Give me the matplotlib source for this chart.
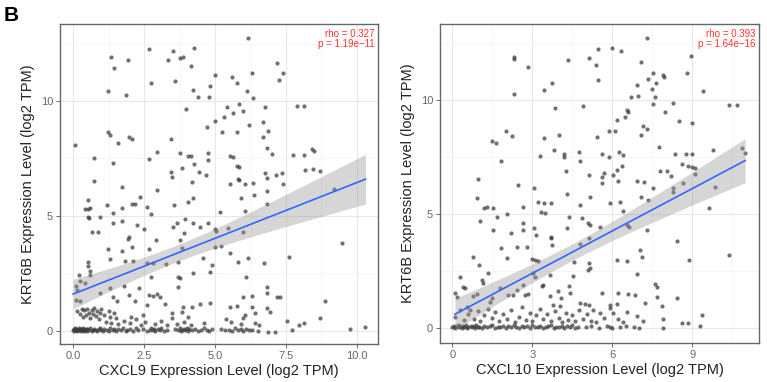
import numpy as np
import matplotlib
matplotlib.use("Agg")
import matplotlib.pyplot as plt
from matplotlib.ticker import MultipleLocator

plt.rcParams['font.family'] = ['Liberation Sans', 'DejaVu Sans']

# ---------------- data: left panel (CXCL9 vs KRT6B) ----------------
cxcl9_x = [6.16, 2.67, 3.53, 4.26, 1.32, 1.94, 3.34, 3.76, 3.88, 1.44, 4.15, 7.2, 6.29, 5.0, 5.59,
           7.41, 7.27, 3.59, 2.73, 5.79, 4.82, 6.12, 1.24, 4.21, 1.86, 4.8, 4.41, 6.35, 3.98, 5.41,
           5.86, 5.98, 5.65, 6.75, 7.88, 8.14, 5.32, 5.0, 6.7, 6.21, 4.71, 5.25, 5.76, 6.88, 1.24,
           1.29, 3.44, 6.68, 1.59, 1.98, 2.09, 0.06, 6.82, 7.0, 2.94, 3.76, 4.06, 4.14, 4.76, 5.53,
           5.64, 7.73, 8.14, 8.41, 8.47, 0.74, 2.67, 4.76, 4.27, 1.39, 3.82, 5.79, 5.86, 8.16, 8.44,
           8.71, 3.46, 3.48, 4.45, 4.68, 6.76, 7.15, 7.35, 5.81, 5.86, 6.82, 0.73, 4.18, 5.53, 6.35,
           7.39, 6.06, 6.82, 1.74, 2.94, 9.18, 6.38, 2.35, 5.91, 0.53, 4.06, 4.21, 6.82, 1.2, 2.08,
           2.18, 3.55, 1.74, 0.41, 0.53, 0.61, 2.62, 6.06, 5.18, 1.39, 2.76, 0.53, 0.56, 0.94, 1.71,
           3.94, 4.21, 3.65, 2.26, 1.41, 3.53, 2.49, 4.47, 4.76, 5.0, 5.04, 5.44, 0.65, 0.88, 6.0,
           3.92, 1.98, 1.94, 3.78, 2.92, 2.09, 1.24, 1.71, 2.69, 5.0, 5.2, 3.82, 5.53, 9.47, 7.62,
           1.29, 1.82, 2.12, 6.15, 4.56, 0.53, 0.53, 0.59, 2.59, 2.82, 3.27, 3.71, 5.82, 6.73, 4.88,
           4.21, 4.82, 0.21, 0.24, 0.59, 2.76, 3.71, 3.76, 6.09, 0.41, 1.79, 2.33, 1.29, 3.71, 6.82,
           6.82, 0.09, 0.14, 0.94, 1.98, 2.67, 2.8, 2.94, 3.06, 1.41, 1.53, 5.98, 6.29, 7.2, 7.29,
           8.88, 0.09, 0.24, 2.18, 2.59, 3.24, 4.47, 4.82, 4.18, 3.86, 5.53, 5.76, 6.29, 6.82, 6.94,
           2.47, 3.47, 3.82, 6.06, 6.41, 8.71, 7.53, 7.94, 8.12, 9.76, 10.29, 7.71, 6.88, 7.12]
cxcl9_y = [12.72, 12.25, 12.19, 12.29, 11.9, 11.78, 11.78, 11.86, 11.93, 11.45, 11.54, 11.67, 11.23,
           11.13, 11.03, 11.2, 10.91, 10.88, 10.8, 10.77, 10.65, 10.45, 10.45, 10.48, 10.26, 10.19,
           10.16, 10.14, 9.65, 9.72, 9.87, 9.58, 9.49, 9.75, 9.78, 9.78, 9.29, 9.14, 9.1, 8.96, 8.88,
           8.67, 8.67, 8.71, 8.67, 8.52, 8.33, 8.45, 8.19, 8.45, 8.33, 8.09, 7.94, 7.7, 7.8, 7.72,
           7.61, 7.61, 7.75, 7.61, 7.58, 7.65, 7.65, 7.9, 7.84, 7.51, 7.46, 7.43, 7.26, 7.29, 7.1,
           7.19, 7.12, 7.0, 7.03, 6.97, 6.9, 6.68, 6.93, 6.78, 6.88, 6.78, 6.88, 6.62, 6.57, 6.64,
           6.54, 6.49, 6.39, 6.45, 6.39, 6.39, 6.1, 6.25, 6.13, 6.17, 5.91, 5.84, 5.77, 5.7, 5.62,
           5.8, 5.52, 5.49, 5.52, 5.52, 5.48, 5.33, 5.29, 5.29, 5.33, 5.38, 5.23, 5.16, 5.12, 5.09,
           4.97, 4.9, 4.97, 4.8, 4.86, 4.71, 4.71, 4.61, 4.68, 4.51, 4.43, 4.54, 4.68, 4.42, 4.36,
           4.46, 4.29, 4.29, 4.29, 4.25, 4.07, 3.99, 3.96, 3.96, 3.67, 3.55, 3.49, 3.55, 3.64, 3.7,
           3.59, 3.41, 3.81, 3.2, 3.12, 3.06, 3.06, 3.16, 3.16, 3.01, 2.83, 2.62, 2.97, 2.94, 2.91,
           2.99, 2.99, 2.97, 2.87, 2.51, 2.58, 2.43, 2.17, 2.43, 2.36, 2.33, 2.29, 2.36, 2.1, 1.97,
           1.86, 1.86, 1.93, 1.93, 1.64, 1.96, 1.78, 1.67, 1.57, 1.57, 1.52, 1.61, 1.49, 1.49, 1.28,
           1.49, 1.52, 1.46, 1.46, 1.28, 1.35, 1.28, 1.28, 1.13, 1.16, 1.17, 1.2, 1.06, 1.06, 1.06,
           1.09, 1.06, 0.99, 0.84, 0.7, 0.77, 0.84, 0.7, 0.77, 0.55, 0.41, 0.26, 0.33, 0.07, 0.16,
           0.04, -0.03, -0.03]
cxcl9_low_x = [0.15, 0.25, 0.3, 0.35, 0.4, 0.45, 0.5, 0.55, 0.6, 0.65, 0.7, 0.75, 0.8, 0.85, 0.9,
               0.95, 1.0, 1.1, 1.15, 1.25, 1.3, 1.35, 1.45, 1.5, 1.6, 1.8, 2.0, 2.05, 2.2, 2.4,
               2.55, 2.9, 3.1, 3.3, 3.5, 3.65, 3.9, 4.05, 4.15, 4.6, 5.4, 5.55, 5.9, 6.0, 6.4, 6.55]
cxcl9_low_y = [0.85, 0.75, 0.95, 0.6, 0.9, 0.7, 0.95, 0.8, 0.55, 0.9, 0.75, 1.0, 0.65, 0.85, 0.5,
               0.8, 0.95, 0.7, 0.4, 0.85, 0.6, 0.35, 0.8, 0.55, 0.3, 0.45, 0.35, 0.6, 0.5, 0.25,
               0.4, 0.3, 0.45, 0.25, 0.55, 0.3, 0.4, 0.6, 0.25, 0.35, 0.5, 0.4, 0.3, 0.55, 0.35, 0.25]
cxcl9_zero_x = [0.0, 0.03, 0.05, 0.08, 0.1, 0.12, 0.15, 0.18, 0.2, 0.22, 0.25, 0.28, 0.3, 0.33,
                0.35, 0.38, 0.4, 0.43, 0.45, 0.48, 0.5, 0.55, 0.6, 0.65, 0.7, 0.75, 0.8, 0.85,
                0.9, 0.95, 1.0, 1.05, 1.1, 1.2, 1.25, 1.3, 1.4, 1.45, 1.5, 1.6, 1.7, 1.75, 1.85,
                1.9, 2.0, 2.1, 2.2, 2.3, 2.45, 2.6, 2.7, 2.75, 2.8, 2.85, 2.9, 3.0, 3.05, 3.1,
                3.2, 3.3, 3.6, 3.7, 3.75, 3.8, 3.85, 3.9, 3.95, 4.0, 4.05, 4.1, 4.2, 4.3, 4.4,
                4.5, 4.6, 4.7, 4.8, 4.9, 5.2, 5.35, 5.5, 5.6, 5.7, 5.8, 5.9, 6.0, 6.1, 6.2, 6.3, 6.5]
cxcl9_zero_y = [0.02, 0.08, 0.0, 0.12, 0.04, 0.1, 0.0, 0.06, 0.14, 0.02, 0.08, 0.0, 0.1, 0.04,
                0.12, 0.0, 0.06, 0.02, 0.1, 0.0, 0.08, 0.04, 0.12, 0.0, 0.06, 0.1, 0.02, 0.0,
                0.08, 0.12, 0.04, 0.0, 0.1, 0.06, 0.0, 0.14, 0.02, 0.08, 0.0, 0.1, 0.04, 0.12,
                0.0, 0.06, 0.08, 0.0, 0.12, 0.04, 0.1, 0.0, 0.06, 0.14, 0.02, 0.08, 0.0, 0.1,
                0.04, 0.12, 0.0, 0.06, 0.08, 0.02, 0.12, 0.0, 0.06, 0.1, 0.04, 0.14, 0.0, 0.08,
                0.02, 0.1, 0.0, 0.06, 0.12, 0.04, 0.0, 0.08, 0.1, 0.02, 0.06, 0.0, 0.12, 0.04,
                0.08, 0.0, 0.1, 0.06, 0.02, 0.0]
# fitted regression line (x endpoints, fitted KRT6B)
cxcl9_fit_x = [0.0, 10.3]
cxcl9_fit_y = [1.6, 6.6]

# ---------------- data: right panel (CXCL10 vs KRT6B) ----------------
cxcl10_x = [7.29, 5.98, 5.48, 6.31, 5.14, 4.33, 2.31, 2.31, 7.06, 8.94, 5.39, 2.85, 8.79, 7.51,
            7.91, 7.94, 7.35, 5.48, 3.75, 7.64, 6.94, 7.48, 3.44, 9.41, 2.31, 6.69, 6.98, 7.6,
            8.29, 7.51, 10.39, 10.66, 3.85, 4.91, 6.54, 6.6, 7.97, 6.48, 6.19, 8.51, 8.98, 7.16,
            7.31, 5.89, 6.1, 2.01, 7.06, 4.01, 2.25, 5.44, 3.45, 1.48, 1.64, 7.76, 3.83, 9.76,
            10.85, 10.98, 4.76, 6.26, 4.19, 4.19, 5.6, 5.89, 6.39, 3.29, 8.35, 8.76, 8.98, 1.81,
            4.79, 6.35, 8.85, 8.98, 9.1, 8.6, 4.26, 6.16, 7.8, 8.05, 5.69, 5.6, 5.14, 6.04, 8.2,
            9.1, 0.98, 6.23, 6.91, 7.19, 5.6, 8.66, 2.48, 9.84, 3.06, 7.51, 8.29, 8.29, 4.29,
            5.18, 7.06, 0.91, 7.35, 3.2, 3.45, 3.69, 5.91, 6.29, 4.79, 2.64, 1.29, 1.19, 1.54,
            9.64, 6.41, 3.31, 3.48, 2.04, 1.66, 4.39, 4.86, 1.04, 5.1, 5.16, 2.66, 5.54, 6.54,
            6.64, 4.29, 3.06, 2.66, 1.54, 3.14, 2.19, 3.7, 3.7, 5.14, 7.31, 8.44, 2.44, 2.79,
            1.81, 4.79, 7.04, 3.73, 0.76, 2.06, 2.98, 3.1, 3.23, 4.56, 6.16, 6.56, 7.1, 8.89,
            10.39, 1.01, 5.14, 5.16, 5.1, 1.35, 3.04, 3.1, 4.51, 6.94, 0.29, 3.66, 1.1, 1.16,
            2.66, 3.35, 3.41, 4.38, 7.6, 7.66, 0.48, 0.41, 1.79, 2.41, 2.26, 0.1, 0.19, 0.79,
            0.91, 2.1, 2.73, 2.85, 3.98, 4.08, 4.41, 5.6, 6.23, 6.6, 6.85, 7.69, 8.44, 3.66,
            1.48, 1.41, 4.79, 4.98, 5.14, 7.23, 5.91, 6.16, 7.85, 3.79, 4.04, 0.54, 0.66, 5.29,
            5.54, 5.91, 6.04, 6.54, 6.94, 9.35, 7.91, 7.14, 8.6, 8.85, 9.29, 7.89]
cxcl10_y = [12.7, 12.27, 12.22, 12.16, 11.86, 11.75, 11.87, 11.78, 11.65, 11.93, 11.52, 11.43,
            11.2, 11.2, 11.1, 10.99, 10.91, 10.88, 10.76, 10.73, 10.66, 10.47, 10.44, 10.41,
            10.26, 10.15, 10.18, 10.12, 9.85, 9.81, 9.78, 9.78, 9.63, 9.74, 9.56, 9.49, 9.46,
            9.27, 9.12, 9.09, 8.98, 8.86, 8.71, 8.65, 8.65, 8.65, 8.46, 8.46, 8.42, 8.36, 8.32,
            8.2, 8.1, 7.92, 7.81, 7.81, 7.88, 7.66, 7.73, 7.73, 7.63, 7.51, 7.63, 7.51, 7.59,
            7.54, 7.63, 7.63, 7.63, 7.3, 7.3, 7.11, 7.12, 7.05, 7.0, 7.19, 6.9, 6.93, 6.9, 6.9,
            6.78, 6.64, 6.71, 6.71, 6.68, 6.75, 6.54, 6.46, 6.45, 6.39, 6.37, 6.35, 6.27, 6.17,
            6.13, 6.13, 6.13, 5.98, 5.86, 5.76, 5.76, 5.69, 5.61, 5.54, 5.5, 5.5, 5.5, 5.54, 5.39,
            5.32, 5.29, 5.25, 5.25, 5.25, 5.15, 5.1, 5.03, 5.0, 4.88, 4.85, 4.81, 4.71, 4.62,
            4.52, 4.62, 4.44, 4.52, 4.44, 4.37, 4.37, 4.3, 4.3, 4.08, 4.15, 4.0, 3.93, 3.93, 4.3,
            3.83, 3.54, 3.54, 3.49, 3.68, 3.42, 3.64, 3.1, 3.06, 3.01, 2.98, 2.95, 2.91, 2.98,
            2.95, 3.13, 2.98, 3.2, 2.76, 2.84, 2.62, 2.54, 2.4, 2.4, 2.25, 2.28, 2.37, 2.22, 2.32,
            2.11, 1.96, 1.89, 1.84, 1.89, 1.84, 1.93, 1.81, 1.74, 1.81, 1.74, 1.67, 1.45, 1.52,
            1.35, 1.4, 1.49, 1.45, 1.45, 1.49, 1.64, 1.3, 1.52, 1.52, 1.52, 1.48, 1.45, 1.37,
            1.3, 1.4, 1.3, 1.15, 1.08, 1.05, 1.01, 1.08, 1.01, 1.05, 0.96, 1.01, 0.96, 0.94,
            0.79, 0.79, 0.64, 0.86, 0.67, 0.72, 0.53, 0.57, 0.38, 0.32, 0.23, 0.2, 0.09, -0.01]
cxcl10_low_x = [0.1, 0.3, 0.45, 0.6, 0.8, 0.95, 1.05, 1.2, 1.35, 1.5, 1.6, 1.75, 1.9, 2.05, 2.2,
                2.35, 2.5, 2.6, 2.75, 2.9, 3.0, 3.15, 3.3, 3.4, 3.55, 3.7, 3.85, 4.0, 4.1, 4.25,
                4.35, 4.5, 4.6, 4.75, 4.9, 5.05, 5.2, 5.4, 5.7, 6.2, 6.4]
cxcl10_low_y = [0.5, 0.8, 0.35, 0.6, 0.4, 0.75, 0.3, 0.55, 0.85, 0.45, 0.7, 0.3, 0.6, 0.4, 0.8,
                0.25, 0.5, 0.9, 0.35, 0.65, 0.3, 0.55, 0.85, 0.4, 0.6, 0.3, 0.75, 0.45, 0.25, 0.65,
                0.35, 0.55, 0.3, 0.8, 0.4, 0.6, 0.3, 0.25, 0.45, 0.4, 0.25]
cxcl10_zero_x = [0.0, 0.05, 0.1, 0.15, 0.2, 0.25, 0.3, 0.35, 0.4, 0.45, 0.5, 0.55, 0.6, 0.7,
                 0.75, 0.8, 0.85, 0.9, 0.95, 1.0, 1.1, 1.2, 1.3, 1.4, 1.5, 1.6, 1.7, 1.8, 1.9,
                 2.0, 2.1, 2.2, 2.3, 2.4, 2.5, 2.6, 2.7, 2.8, 2.9, 3.0, 3.1, 3.2, 3.3, 3.4, 3.5,
                 3.6, 3.7, 3.8, 3.9, 4.0, 4.1, 4.2, 4.3, 4.4, 4.5, 4.6, 4.7, 5.0, 5.2, 5.5, 5.8,
                 5.9, 6.0, 6.3, 6.5, 6.8, 7.0]
cxcl10_zero_y = [0.04, 0.1, 0.0, 0.06, 0.12, 0.02, 0.08, 0.0, 0.1, 0.04, 0.14, 0.0, 0.06, 0.1,
                 0.02, 0.08, 0.0, 0.12, 0.04, 0.06, 0.0, 0.1, 0.02, 0.08, 0.12, 0.0, 0.06, 0.04,
                 0.1, 0.0, 0.08, 0.02, 0.12, 0.06, 0.0, 0.1, 0.04, 0.08, 0.0, 0.12, 0.02, 0.06,
                 0.1, 0.0, 0.04, 0.08, 0.12, 0.0, 0.06, 0.02, 0.1, 0.0, 0.08, 0.04, 0.12, 0.0,
                 0.06, 0.02, 0.1, 0.0, 0.08, 0.04, 0.0, 0.06, 0.1, 0.02, 0.0]
cxcl10_fit_x = [0.1, 10.98]
cxcl10_fit_y = [0.6, 7.34]

panels = [
    dict(x=cxcl9_x + cxcl9_low_x + cxcl9_zero_x, y=cxcl9_y + cxcl9_low_y + cxcl9_zero_y,
         fit_x=cxcl9_fit_x, fit_y=cxcl9_fit_y,
         xlabel="CXCL9 Expression Level (log2 TPM)", xlim=(-0.46, 10.74), ylim=(-0.57, 13.35),
         xticks=[0.0, 2.5, 5.0, 7.5, 10.0], xticklabels=["0.0", "2.5", "5.0", "7.5", "10.0"],
         xminor=1.25, stats="rho = 0.327\np = 1.19e\u221211",
         rect=[60 / 767, 1 - 344 / 382, 318 / 767, 320 / 382]),
    dict(x=cxcl10_x + cxcl10_low_x + cxcl10_zero_x, y=cxcl10_y + cxcl10_low_y + cxcl10_zero_y,
         fit_x=cxcl10_fit_x, fit_y=cxcl10_fit_y,
         xlabel="CXCL10 Expression Level (log2 TPM)", xlim=(-0.46, 11.5), ylim=(-0.66, 13.33),
         xticks=[0, 3, 6, 9], xticklabels=["0", "3", "6", "9"],
         xminor=1.5, stats="rho = 0.393\np = 1.64e\u221216",
         rect=[440 / 767, 1 - 343 / 382, 319 / 767, 319 / 382]),
]

fig = plt.figure(figsize=(7.67, 3.82), dpi=100)

for p in panels:
    ax = fig.add_axes(p["rect"])
    x = np.array(p["x"], dtype=float)
    y = np.array(p["y"], dtype=float)
    ax.set_facecolor("white")
    ax.scatter(x, y, s=9, color="#3a3a3a", alpha=0.72, linewidths=0, zorder=3)

    # regression line with a 95% confidence band
    fx = np.array(p["fit_x"], dtype=float)
    fy = np.array(p["fit_y"], dtype=float)
    b1 = (fy[1] - fy[0]) / (fx[1] - fx[0])
    b0 = fy[0] - b1 * fx[0]
    n = len(x)
    resid = y - (b0 + b1 * x)
    s = np.sqrt(np.sum(resid ** 2) / (n - 2))
    xs = np.linspace(fx[0], fx[1], 100)
    ys = b0 + b1 * xs
    se = s * np.sqrt(1 / n + (xs - x.mean()) ** 2 / np.sum((x - x.mean()) ** 2))
    t = 1.966
    ax.fill_between(xs, ys - t * se, ys + t * se, color="#999999", alpha=0.4, linewidth=0, zorder=4)
    ax.plot(xs, ys, color="#3366FF", lw=1.2, zorder=5)

    ax.set_xlim(*p["xlim"])
    ax.set_ylim(*p["ylim"])
    ax.set_xticks(p["xticks"])
    ax.set_xticklabels(p["xticklabels"])
    ax.set_yticks([0, 5, 10])
    ax.xaxis.set_minor_locator(MultipleLocator(p["xminor"]))
    ax.yaxis.set_minor_locator(MultipleLocator(2.5))
    ax.grid(which="major", color="#e8e8e8", lw=0.8, zorder=0)
    ax.grid(which="minor", color="#f3f3f3", lw=0.5, zorder=0)
    ax.set_axisbelow(True)
    ax.tick_params(which="major", length=3, width=0.6, color="#555555", labelsize=8,
                   labelcolor="#666666", pad=2)
    ax.tick_params(which="minor", length=0)
    for sp in ax.spines.values():
        sp.set_color("#666666")
        sp.set_linewidth(1.0)
    ax.set_xlabel(p["xlabel"], fontsize=10.5, color="#222222", labelpad=2)
    ax.set_ylabel("KRT6B Expression Level (log2 TPM)", fontsize=10.5, color="#222222", labelpad=4)
    ax.text(0.99, 0.985, p["stats"], transform=ax.transAxes, ha="right", va="top",
            fontsize=7, color="#ff3333", linespacing=1.0, zorder=6)

fig.text(4 / 767, 1 - 6 / 382, "B", fontsize=15, fontweight="bold", ha="left", va="top")

fig.savefig("out.png", dpi=100)
